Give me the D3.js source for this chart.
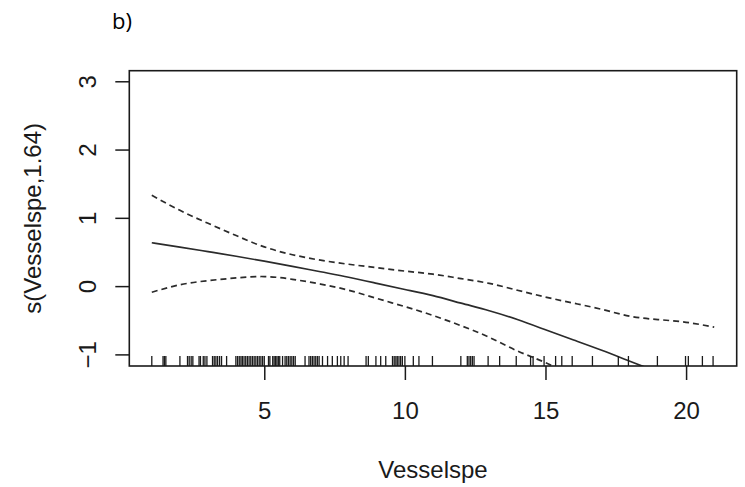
<!DOCTYPE html>
<html>
<head>
<meta charset="utf-8">
<script src="https://cdn.jsdelivr.net/npm/d3@7"></script>
<style>
  html, body { margin: 0; padding: 0; background: #fff; }
  svg { display: block; font-family: "Liberation Sans", Arial, sans-serif; }
</style>
</head>
<body>
<svg id="chart" width="745" height="487"></svg>
<script>
// Smooth term s(Vesselspe) with its ±2 SE band, evaluated on a grid of Vesselspe
const gridX   = [1, 2, 3, 4, 5, 6, 7, 8, 9, 10, 11, 12, 13, 14, 15, 16, 17, 18, 19, 20, 21];
const fitY    = [0.635, 0.572, 0.505, 0.437, 0.365, 0.29, 0.21, 0.13, 0.04, -0.05, -0.14, -0.25, -0.36, -0.49, -0.64, -0.79, -0.94, -1.10, -1.26, -1.42, -1.58];
const upperY  = [1.33, 1.11, 0.92, 0.74, 0.575, 0.46, 0.38, 0.32, 0.27, 0.22, 0.175, 0.11, 0.04, -0.06, -0.16, -0.25, -0.34, -0.44, -0.49, -0.53, -0.60];
const lowerY  = [-0.09, 0.02, 0.08, 0.12, 0.14, 0.10, 0.03, -0.06, -0.18, -0.30, -0.43, -0.58, -0.75, -0.95, -1.12, -1.33, -1.55, -1.76, -2.0, -2.3, -2.55];

// Observed Vesselspe values (rug)
const rugValues = [1.0, 1.4, 1.45, 1.5, 2.0, 2.27, 2.33, 2.4, 2.46, 2.68, 2.73, 2.83, 2.89, 2.96,
  3.16, 3.22, 3.28, 3.34, 3.41, 3.48, 3.66, 3.99, 4.05, 4.11, 4.17, 4.22, 4.28, 4.34, 4.4, 4.46,
  4.52, 4.58, 4.64, 4.7, 4.76, 4.82, 4.88, 4.94, 5.0, 5.15, 5.2, 5.3, 5.35, 5.4, 5.45, 5.5, 5.55,
  5.65, 5.74, 5.8, 5.86, 5.92, 5.98, 6.04, 6.1, 6.45, 6.59, 6.65, 6.71, 6.77, 6.83, 6.89, 6.95,
  7.07, 7.25, 7.42, 7.6, 7.72, 7.84, 7.98, 8.62, 8.7, 8.97, 9.14, 9.32, 9.56, 9.62, 9.68, 9.73,
  9.79, 9.85, 9.91, 10.0, 10.3, 10.5, 10.98, 11.99, 12.22, 12.28, 12.34, 12.4, 12.46, 12.96,
  13.37, 13.96, 14.47, 14.56, 14.95, 15.36, 15.58, 15.95, 16.67, 17.59, 17.95, 18.98, 19.98,
  20.08, 20.58, 20.96];

const xTicks = [5, 10, 15, 20];
const yTicks = [-1, 0, 1, 2, 3];
const xDomain = [0.2, 21.8];
const yDomain = [-1.17, 3.155];

const panelLabel = "b)";
const xTitle = "Vesselspe";
const yTitle = "s(Vesselspe,1.64)";

const svg = d3.select("#chart");
const plot = { left: 129.3, right: 736.7, top: 70.7, bottom: 366 };
const ink = "#1a1a1a";

const x = d3.scaleLinear().domain(xDomain).range([plot.left, plot.right]);
const y = d3.scaleLinear().domain(yDomain).range([plot.bottom, plot.top]);

svg.append("defs").append("clipPath").attr("id", "plotClip")
  .append("rect")
  .attr("x", plot.left).attr("y", plot.top)
  .attr("width", plot.right - plot.left).attr("height", plot.bottom - plot.top);

// Panel label
svg.append("text")
  .attr("x", 112).attr("y", 29)
  .attr("font-size", 22).attr("fill", "#000")
  .attr("font-family", "'Open Sans', 'Liberation Sans', sans-serif")
  .text(panelLabel);

// Curves
const g = svg.append("g").attr("clip-path", "url(#plotClip)");
const lineGen = ys => d3.line()
  .x((d, i) => x(gridX[i]))
  .y(d => y(d))
  .curve(d3.curveNatural)(ys);

g.append("path").attr("d", lineGen(fitY))
  .attr("fill", "none").attr("stroke", "#2b2b2b").attr("stroke-width", 1.7);
[upperY, lowerY].forEach(arr => {
  g.append("path").attr("d", lineGen(arr))
    .attr("fill", "none").attr("stroke", "#2b2b2b").attr("stroke-width", 1.7)
    .attr("stroke-dasharray", "6,4");
});

// Rug
svg.append("g").selectAll("line").data(rugValues).join("line")
  .attr("x1", d => x(d)).attr("x2", d => x(d))
  .attr("y1", plot.bottom).attr("y2", plot.bottom - 10)
  .attr("stroke", ink).attr("stroke-width", 1.3);

// Axes
const xAxis = svg.append("g")
  .attr("transform", `translate(0,${plot.bottom})`)
  .call(d3.axisBottom(x).tickValues(xTicks).tickSize(14).tickFormat(d3.format("d")));
xAxis.select(".domain").remove();
xAxis.selectAll(".tick line").attr("stroke", ink).attr("stroke-width", 1.5);
xAxis.selectAll(".tick text")
  .attr("y", 53).attr("dy", 0)
  .attr("font-size", 24).attr("fill", ink)
  .attr("font-family", "'Liberation Sans', Arial, sans-serif");

const yAxis = svg.append("g")
  .attr("transform", `translate(${plot.left},0)`)
  .call(d3.axisLeft(y).tickValues(yTicks).tickSize(14).tickFormat(d3.format("d")));
yAxis.select(".domain").remove();
yAxis.selectAll(".tick line").attr("stroke", ink).attr("stroke-width", 1.5);
yAxis.selectAll(".tick text")
  .attr("x", 0).attr("dy", 0)
  .attr("text-anchor", "middle")
  .attr("transform", "translate(-33,0) rotate(-90)")
  .attr("font-size", 24).attr("fill", ink)
  .attr("font-family", "'Liberation Sans', Arial, sans-serif");

// Plot frame
svg.append("rect")
  .attr("x", plot.left).attr("y", plot.top)
  .attr("width", plot.right - plot.left).attr("height", plot.bottom - plot.top)
  .attr("fill", "none").attr("stroke", ink).attr("stroke-width", 1.6);

// Axis titles
svg.append("text")
  .attr("x", (plot.left + plot.right) / 2).attr("y", 478)
  .attr("text-anchor", "middle").attr("font-size", 24).attr("fill", ink)
  .text(xTitle);
svg.append("text")
  .attr("transform", `translate(41,${(plot.top + plot.bottom) / 2}) rotate(-90)`)
  .attr("text-anchor", "middle").attr("font-size", 24).attr("fill", ink)
  .text(yTitle);
</script>
</body>
</html>
